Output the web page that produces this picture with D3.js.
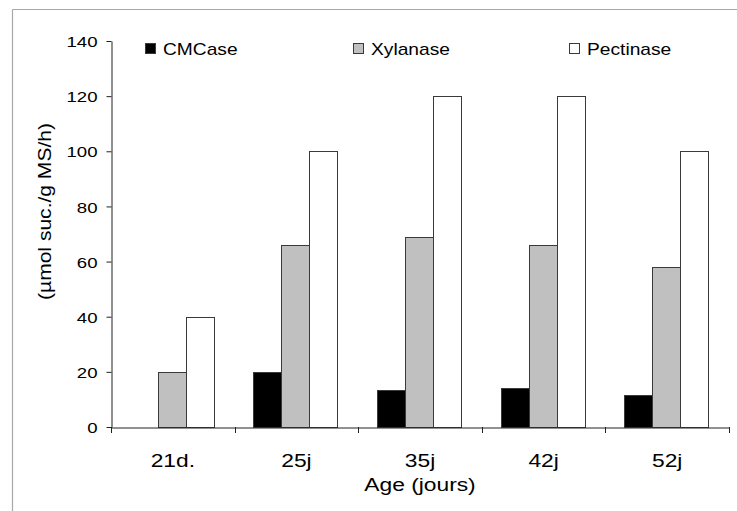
<!DOCTYPE html>
<html><head><meta charset="utf-8">
<script src="https://cdn.jsdelivr.net/npm/d3@7"></script>
<style>
html,body{margin:0;padding:0;background:#fff;}
svg text{font-family:"Liberation Sans",Arial,sans-serif;fill:#000;}
</style></head>
<body>
<svg id="chart" width="737" height="511"></svg>
<script>
const categories = ["21d.", "25j", "35j", "42j", "52j"];
const seriesNames = ["CMCase", "Xylanase", "Pectinase"];
const cmcase = [0, 20, 13.5, 14, 11.5];
const xylanase = [20, 66, 69, 66, 58];
const pectinase = [40, 100, 120, 120, 100];
const yTicks = [0, 20, 40, 60, 80, 100, 120, 140];
const xTitle = "Age (jours)";
const yTitle = "(µmol suc./g MS/h)";

const seriesValues = [cmcase, xylanase, pectinase];
const colors = ["#000000", "#c0c0c0", "#ffffff"];
const SX = 1.2;

const svg = d3.select("#chart");

// outer frame (top and left edges visible)
svg.append("line").attr("x1", 12.5).attr("x2", 737).attr("y1", 9.5).attr("y2", 9.5)
  .attr("stroke", "#a8a8a8").attr("stroke-width", 1.2);
svg.append("line").attr("x1", 12.5).attr("x2", 12.5).attr("y1", 9.5).attr("y2", 511)
  .attr("stroke", "#a8a8a8").attr("stroke-width", 1.2);

const mLeft = 111, mRight = 729, mTop = 41, mBottom = 427;
const y = d3.scaleLinear().domain([0, 140]).range([mBottom, mTop]);
const x0 = d3.scaleBand().domain(categories).range([mLeft, mRight]).padding(0);
const x1 = d3.scaleBand().domain(seriesNames).range([0, x0.bandwidth()]).paddingInner(0).paddingOuter(0.707);

// bars
const g = svg.append("g");
categories.forEach((c, i) => {
  seriesNames.forEach((s, j) => {
    const v = seriesValues[j][i];
    g.append("rect")
      .attr("x", Math.round(x0(c) + x1(s)) - 0.5)
      .attr("y", Math.round(y(v)) + 0.5)
      .attr("width", Math.round(x1.bandwidth()))
      .attr("height", Math.round(y(0)) - Math.round(y(v)))
      .attr("fill", colors[j])
      .attr("stroke", "#3a3a3a")
      .attr("stroke-width", 1);
  });
});

// y axis
const yAxis = svg.append("g").attr("transform", `translate(${mLeft + 0.5},0)`)
  .call(d3.axisLeft(y).tickValues(yTicks).tickSize(5).tickSizeOuter(0));
yAxis.select(".domain").attr("stroke", "#222");
yAxis.selectAll(".tick line").attr("stroke", "#222");
yAxis.selectAll(".tick text")
  .attr("font-size", 15.5).attr("font-family", "Liberation Sans, Arial, sans-serif")
  .attr("x", -14 / SX).attr("dy", "0.36em")
  .attr("transform", `scale(${SX},1)`);

// x axis
const xAxisScale = d3.scaleBand().domain(categories).range([mLeft, mRight]);
const xAxis = svg.append("g").attr("transform", `translate(0,${mBottom + 0.5})`)
  .call(d3.axisBottom(xAxisScale).tickSize(0).tickSizeOuter(0));
xAxis.select(".domain").attr("stroke", "#222");
xAxis.selectAll(".tick text")
  .attr("font-size", 19).attr("font-family", "Liberation Sans, Arial, sans-serif")
  .attr("y", 0).attr("dy", 0)
  .attr("transform", `translate(0,39) scale(${SX},1)`);
// category boundary ticks
const boundaries = categories.map(c => x0(c)).concat([mRight]);
svg.append("g").selectAll("line").data(boundaries).join("line")
  .attr("x1", d => Math.round(d) + 0.5).attr("x2", d => Math.round(d) + 0.5)
  .attr("y1", mBottom).attr("y2", mBottom + 6)
  .attr("stroke", "#222");

// axis titles
svg.append("text")
  .attr("transform", `translate(420,491) scale(${SX},1)`)
  .attr("text-anchor", "middle").attr("font-size", 19)
  .text(xTitle);
svg.append("text")
  .attr("transform", `translate(51,211.5) rotate(-90)`)
  .attr("text-anchor", "middle").attr("font-size", 18)
  .attr("textLength", 177).attr("lengthAdjust", "spacingAndGlyphs")
  .text(yTitle);

// legend
const legendX = [145, 353, 569];
const legend = svg.append("g");
seriesNames.forEach((s, j) => {
  legend.append("rect")
    .attr("x", legendX[j] + 0.5).attr("y", 43.5)
    .attr("width", 10).attr("height", 10)
    .attr("fill", colors[j]).attr("stroke", "#3a3a3a").attr("stroke-width", 1);
  legend.append("text")
    .attr("transform", `translate(${legendX[j] + 18},55) scale(${SX},1)`)
    .attr("font-size", 16)
    .text(s);
});
</script>
</body></html>
